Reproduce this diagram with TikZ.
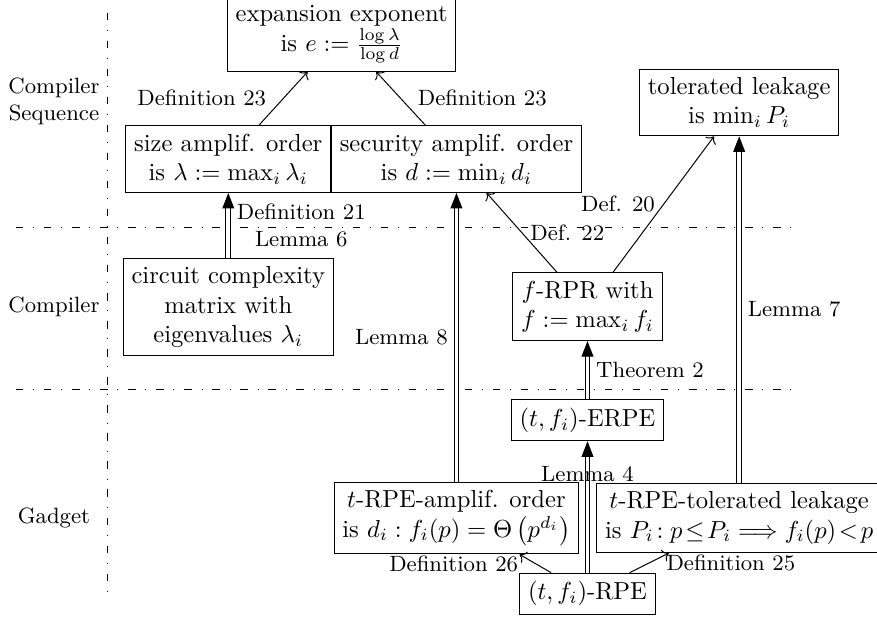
\documentclass[tikz,border=0pt]{standalone}
\usepackage{amsmath}
\usepackage{tikz}
\usetikzlibrary{arrows,arrows.meta,positioning}
\tikzstyle{propiedad} = [draw, rectangle, align=center]
\tikzstyle{cita} = [font=\small, align=center]
\tikzstyle{prueba} = [double, double distance=1.5pt, -{Triangle[length=6.3pt,width=4.8pt]}]
\tikzstyle{carril} = [loosely dashdotted]

\begin{document}
\begin{tikzpicture}
	\useasboundingbox (0,0) rectangle (12.529,-8.843);
	% carriles
	\draw[carril] (1.533,-0.181) -- (1.533,-8.453);
	\draw[carril] (0.229,-3.25) -- (11.43,-3.25);
	\draw[carril] (0.229,-5.571) -- (11.43,-5.571);
	\node[cita] (lseq) at (0.771,-1.45) {Compiler\\Sequence};
	\node[cita] (lcomp) at (0.771,-4.386) {Compiler};
	\node[cita] (lgadget) at (0.771,-7.4) {Gadget};
	% propiedades
	\node[propiedad] (expo) at (4.881,-0.49) {expansion exponent\\is $e:=\frac{\log\lambda}{\log d}$};
	\node[propiedad] (size) at (3.261,-2.271) {size amplif. order\\is $\lambda:=\max_i\lambda_i$};
	\node[propiedad, right=0pt of size] (secu) {security amplif. order\\is $d:=\min_i d_i$};
	\node[propiedad] (tolerated) at (10.56,-1.464) {tolerated leakage\\is $\min_i P_i$};
	\node[propiedad] (circuit) at (3.261,-4.386) {circuit complexity\\matrix with\\eigenvalues $\lambda_i$};
	\node[propiedad] (frpr) at (8.393,-4.381) {$f$-RPR with\\$f:=\max_i f_i$};
	\node[propiedad] (erpe) at (8.393,-6.004) {$(t,f_i)$-ERPE};
	\node[propiedad] (amplif) at (secu |- 0,-7.4) {$t$-RPE-amplif. order\\is $d_i:f_i(p)=\Theta\left(p^{d_i}\right)$};
	\node[propiedad] (tolleak) at (tolerated |- 0,-7.4) {$t$-RPE-tolerated leakage\\is $P_i\!:p\!\le\!P_i\Longrightarrow f_i(p)\!<\!p$};
	\node[propiedad] (rpe) at (8.393,-8.481) {$(t,f_i)$-RPE};
	% implicaciones
	\draw[->] (size) -- node[cita, left=3.5pt] {Definition 23} (expo);
	\draw[->] (secu) -- node[cita, right=3.5pt] {Definition 23} (expo);
	\draw[prueba] (circuit) -- node[cita, right] {Definition 21\\Lemma 6} (size);
	\draw[prueba] (amplif) -- node[cita, left] {Lemma 8} (secu);
	\draw[prueba] (tolleak) -- node[cita, right] {Lemma 7} (tolerated);
	\draw[->] (frpr) -- node[cita, right] {Def. 22} (secu);
	\draw[->] (frpr) -- node[cita, left] {Def. 20} (tolerated);
	\draw[prueba] (erpe) -- node[cita, right] {Theorem 2} (frpr);
	\draw[prueba] (rpe) -- node[cita, near end] {Lemma 4} (erpe);
	\draw[->] (rpe) -- node[cita, left=3.5pt] {Definition 26} (amplif);
	\draw[->] (rpe) -- node[cita, right=3.5pt] {Definition 25} (tolleak);
\end{tikzpicture}
\end{document}
